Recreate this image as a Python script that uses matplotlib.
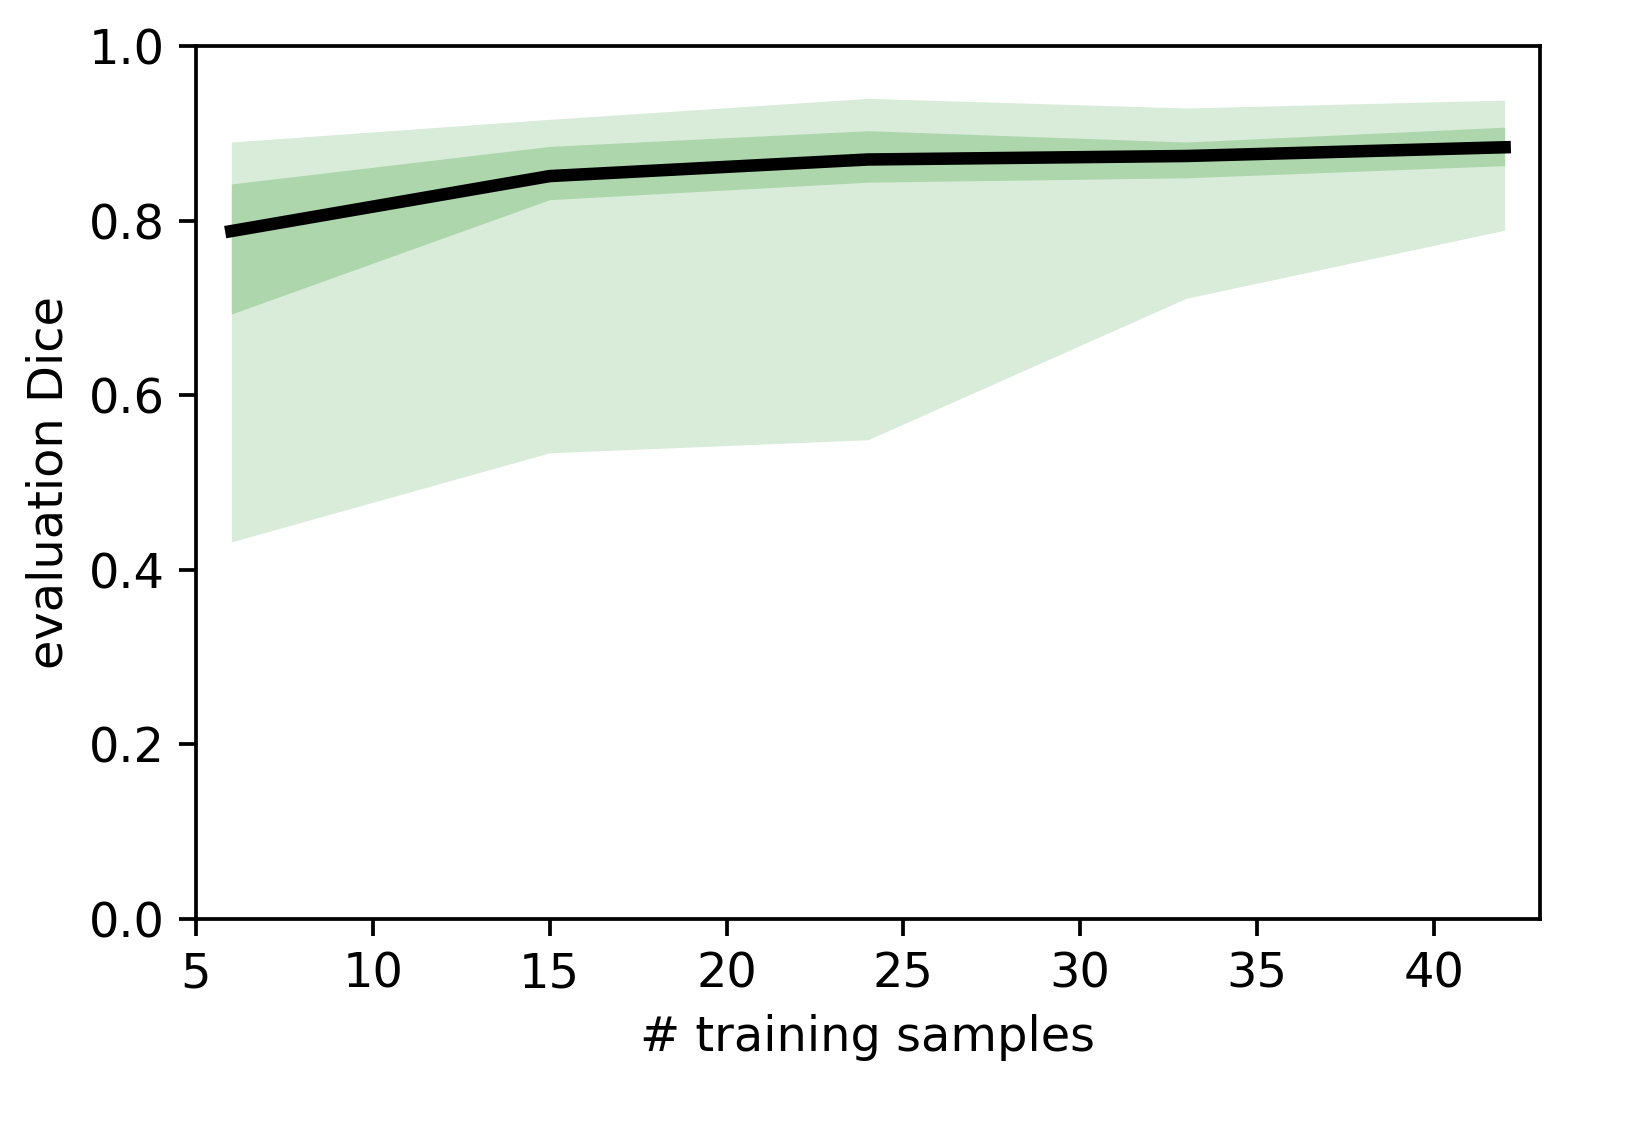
import matplotlib
matplotlib.use("Agg")
import matplotlib.pyplot as plt

n_samples = [6, 15, 24, 33, 42]
mean_dice = [0.788, 0.851, 0.870, 0.874, 0.884]
inner_upper = [0.842, 0.885, 0.903, 0.890, 0.907]
inner_lower = [0.693, 0.824, 0.844, 0.849, 0.863]
outer_upper = [0.890, 0.916, 0.940, 0.929, 0.938]
outer_lower = [0.432, 0.534, 0.549, 0.711, 0.789]

fig = plt.figure(figsize=(1628/300, 1126/300), dpi=300)
ax = fig.add_axes([196/1628, 1-919/1126, (1540-196)/1628, (919-46)/1126])

ax.fill_between(n_samples, outer_lower, outer_upper, color='#d9ecd9', linewidth=0)
ax.fill_between(n_samples, inner_lower, inner_upper, color='#add6ad', linewidth=0)
ax.plot(n_samples, mean_dice, color='black', linewidth=3.0)

ax.set_xlim(5, 43)
ax.set_ylim(0, 1)
ax.set_xticks([5, 10, 15, 20, 25, 30, 35, 40])
ax.set_yticks([0.0, 0.2, 0.4, 0.6, 0.8, 1.0])
ax.set_xlabel('# training samples', fontsize=11.5)
ax.set_ylabel('evaluation Dice', fontsize=11.5)
ax.tick_params(labelsize=11.5, length=4, width=0.9)
for s in ax.spines.values():
    s.set_linewidth(0.9)

fig.savefig('out.png', dpi=300)
